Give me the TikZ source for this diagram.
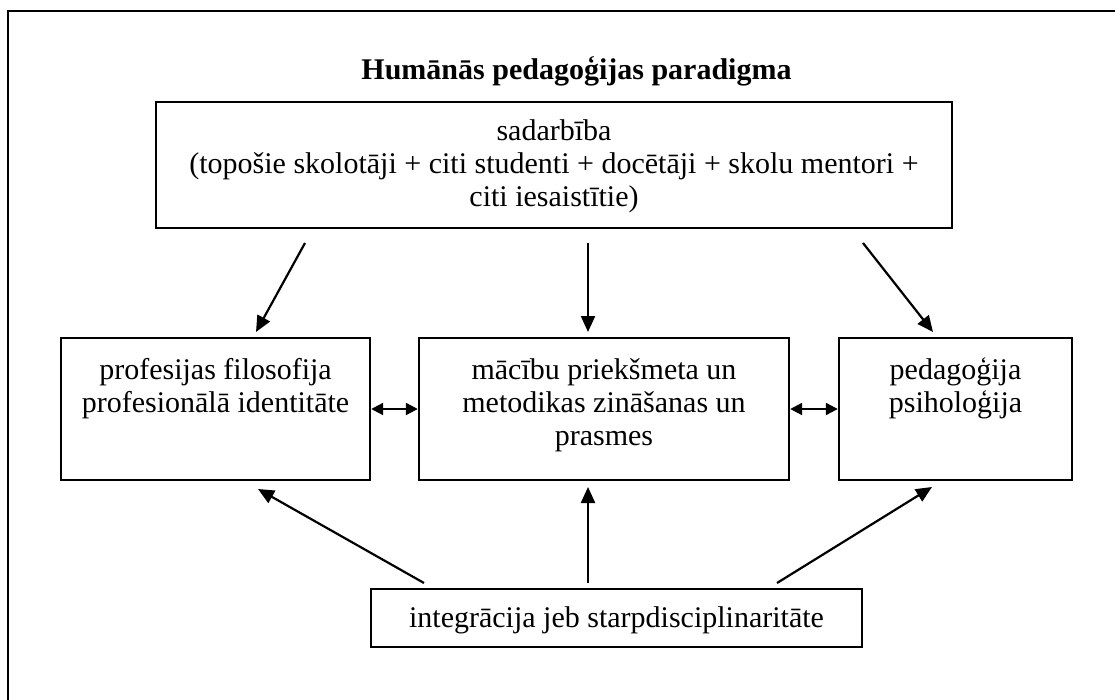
\documentclass[tikz,border=0pt]{standalone}
\usepackage{fontspec}
\setmainfont{Liberation Serif}
\usetikzlibrary{arrows.meta}
\begin{document}
\begin{tikzpicture}[x=1pt,y=-1pt,
  box/.style={draw, line width=2.4pt, inner sep=0pt},
  lbl/.style={font=\fontsize{30}{33}\selectfont, inner sep=0pt, anchor=base},
  ttl/.style={font=\fontsize{30}{33}\selectfont\bfseries, inner sep=0pt, anchor=base},
  arr/.style={line width=2.2pt, -{Triangle[length=16pt,width=14pt]}},
  darr/.style={line width=2.2pt, {Triangle[length=12pt,width=12pt]}-{Triangle[length=12pt,width=12pt]}}]
\path[use as bounding box] (0,0) rectangle (1115,700);
\clip (0,0) rectangle (1115,700);
\fill[white] (0,0) rectangle (1115,700);
% outer frame (only top and left edges visible)
\draw[line width=2.4pt] (8,11) rectangle (1140,730);

\node[ttl] (title) at (576.5,80) {Humānās pedagoģijas paradigma};

% boxes
\node[box, minimum width=796pt, minimum height=126pt] (top) at (554,165) {};
\node[box, minimum width=309pt, minimum height=142pt] (L) at (215.5,409) {};
\node[box, minimum width=370pt, minimum height=142pt] (M) at (604,409) {};
\node[box, minimum width=233pt, minimum height=142pt] (R) at (955.5,409) {};
\node[box, minimum width=491pt, minimum height=58pt] (B) at (616.5,618) {};

% texts
\node[lbl] (toptext) at (554,141) {\begin{tabular}[t]{@{}c@{}}sadarbība\\(topošie skolotāji + citi studenti + docētāji + skolu mentori +\\citi iesaistītie)\end{tabular}};
\node[lbl] (Ltext) at (215.5,379) {\begin{tabular}[t]{@{}c@{}}profesijas filosofija\\profesionālā identitāte\end{tabular}};
\node[lbl] (Mtext) at (604,379) {\begin{tabular}[t]{@{}c@{}}mācību priekšmeta un\\metodikas zināšanas un\\prasmes\end{tabular}};
\node[lbl] (Rtext) at (955.5,379) {\begin{tabular}[t]{@{}c@{}}pedagoģija\\psiholoģija\end{tabular}};
\node[lbl] (Btext) at (616.5,627) {integrācija jeb starpdisciplinaritāte};

% arrow end points
\coordinate (tA) at (305,243);  \coordinate (lA) at (256,332);
\coordinate (tB) at (588,243);  \coordinate (mB) at (588,332);
\coordinate (tC) at (863,243);  \coordinate (rC) at (933,332);
\coordinate (bA) at (424,583);  \coordinate (lD) at (258,489);
\coordinate (bB) at (588,583);  \coordinate (mE) at (588,487);
\coordinate (bC) at (777,583);  \coordinate (rF) at (932,487);

\draw[arr] (tA) -- (lA);
\draw[arr] (tB) -- (mB);
\draw[arr] (tC) -- (rC);
\draw[arr] (bA) -- (lD);
\draw[arr] (bB) -- (mE);
\draw[arr] (bC) -- (rF);
\draw[darr] (L) -- (M);
\draw[darr] (M) -- (R);
\end{tikzpicture}
\end{document}
